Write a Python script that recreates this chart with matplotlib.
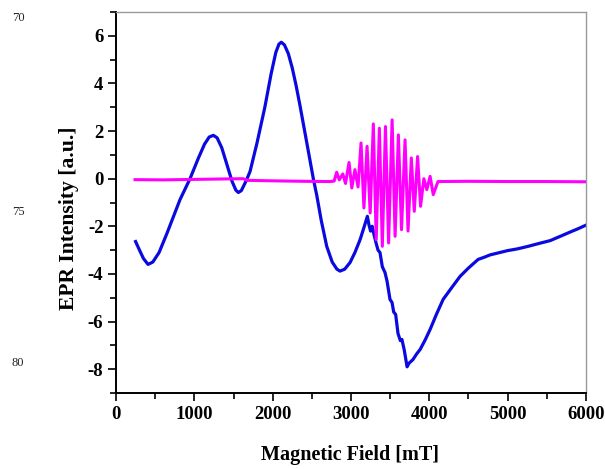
import matplotlib
matplotlib.use("Agg")
import matplotlib.pyplot as plt
from matplotlib.ticker import MultipleLocator

plt.rcParams['font.family'] = ['Liberation Serif', 'DejaVu Serif']
plt.rcParams['axes.unicode_minus'] = False

# Blue EPR spectrum
blue_field = [250, 300, 350, 409, 470, 550, 650, 750, 817, 945, 1050, 1130, 1190, 1243,
              1290, 1350, 1420, 1480, 1530, 1562, 1600, 1660, 1711, 1800, 1900, 1980,
              2040, 2080, 2110, 2150, 2200, 2250, 2300, 2350, 2400, 2450, 2519, 2563,
              2620, 2690, 2760, 2820, 2860, 2920, 2988, 3050, 3116, 3170, 3209, 3230,
              3250, 3270, 3290, 3320, 3345, 3370, 3400, 3434, 3460, 3498, 3524, 3545,
              3570, 3600, 3630, 3650, 3680, 3716, 3740, 3790, 3840, 3883, 3950, 4010,
              4090, 4176, 4280, 4393, 4500, 4623, 4700, 4776, 4900, 5000, 5121, 5250,
              5400, 5543, 5700, 5798, 5900, 6000]
blue_int = [-2.64, -3.0, -3.35, -3.6, -3.5, -3.1, -2.3, -1.45, -0.88, 0.0, 0.85, 1.45,
            1.75, 1.82, 1.72, 1.3, 0.55, -0.1, -0.48, -0.58, -0.5, -0.1, 0.3, 1.5, 3.0,
            4.4, 5.3, 5.65, 5.73, 5.62, 5.25, 4.65, 3.9, 3.05, 2.15, 1.25, 0.0, -0.7,
            -1.75, -2.84, -3.5, -3.8, -3.88, -3.8, -3.52, -3.1, -2.56, -2.0, -1.58,
            -1.95, -2.2, -2.0, -2.3, -2.7, -3.0, -3.1, -3.7, -3.94, -4.3, -5.07, -5.2,
            -5.6, -5.7, -6.5, -6.8, -6.75, -7.2, -7.9, -7.75, -7.6, -7.35, -7.17, -6.75,
            -6.33, -5.7, -5.07, -4.6, -4.1, -3.75, -3.39, -3.3, -3.2, -3.1, -3.02, -2.95,
            -2.85, -2.72, -2.6, -2.38, -2.24, -2.1, -1.95]

# Magenta EPR spectrum (hyperfine oscillations)
mag_field = [243, 600, 1000, 1400, 1622, 1680, 2000, 2400, 2733, 2785,
             2817, 2850, 2895, 2930, 2975, 3010, 3050, 3090, 3128, 3165, 3205, 3245,
             3285, 3322, 3362, 3400, 3440, 3480, 3525, 3563, 3605, 3645, 3690, 3728,
             3770, 3808, 3850, 3888, 3930, 3968, 4010, 4050, 4110, 4500, 5000, 5500, 6000]
mag_int = [-0.04, -0.05, -0.03, -0.01, 0.0, -0.07, -0.09, -0.11, -0.12, -0.1,
           0.27, -0.05, 0.2, -0.2, 0.68, -0.39, 0.38, -0.35, 1.5, -1.23, 1.36, -1.44,
           2.3, -2.56, 2.12, -2.84, 2.19, -2.7, 2.47, -2.42, 1.84, -2.14, 1.63, -2.2,
           0.87, -1.37, 0.93, -1.16, 0.0, -0.46, 0.1, -0.67, -0.12, -0.11, -0.12, -0.12, -0.13]

xticks = [0, 1000, 2000, 3000, 4000, 5000, 6000]
yticks = [-8, -6, -4, -2, 0, 2, 4, 6]

W, H = 605, 469
fig = plt.figure(figsize=(W / 100, H / 100), dpi=100)
ax = fig.add_axes([116/W, 1-393/H, (586-116)/W, (393-12)/H])

ax.plot(blue_field, blue_int, color='#0a0ae0', lw=2.3, solid_joinstyle='round')
ax.plot(mag_field, mag_int, color='#ff00ff', lw=2.2, solid_joinstyle='round')

ax.set_xlim(0, 6000)
ax.set_ylim(-9, 7)
ax.set_xticks(xticks)
ax.set_yticks(yticks)
ax.set_xticklabels([str(v) for v in xticks], fontweight='bold', fontsize=13.5)
ax.set_yticklabels([str(v) for v in yticks], fontweight='bold', fontsize=13.5)
ax.xaxis.set_minor_locator(MultipleLocator(500))
ax.yaxis.set_minor_locator(MultipleLocator(1))
ax.tick_params(which='major', direction='out', length=6, width=1.2, color='black', pad=3)
ax.tick_params(which='minor', direction='out', length=4, width=1.2, color='black')
ax.tick_params(top=False, right=False, which='both')

for s in ['left', 'bottom']:
    ax.spines[s].set_color('black')
    ax.spines[s].set_linewidth(1.4)
for s in ['top', 'right']:
    ax.spines[s].set_color('#999999')
    ax.spines[s].set_linewidth(1.0)

ax.set_xlabel('Magnetic Field [mT]', fontweight='bold', fontsize=14.5)
ax.set_ylabel('EPR Intensity [a.u.]', fontweight='bold', fontsize=15.6)

# label positions in axes coordinates (from pixel positions)
ax_w, ax_h = 586 - 116, 393 - 12
ax.xaxis.set_label_coords((350 - 116) / ax_w, (393 - 455) / ax_h)
ax.yaxis.set_label_coords((69 - 116) / ax_w, (393 - 218) / ax_h)
ax.xaxis.label.set_va('center')
ax.yaxis.label.set_va('center')

for txt, ypx in [('70', 18), ('75', 212), ('80', 363)]:
    fig.text(18/W, 1-ypx/H, txt, fontsize=9, ha='center', va='center', color='#222222')

fig.savefig('out.png', dpi=100)
